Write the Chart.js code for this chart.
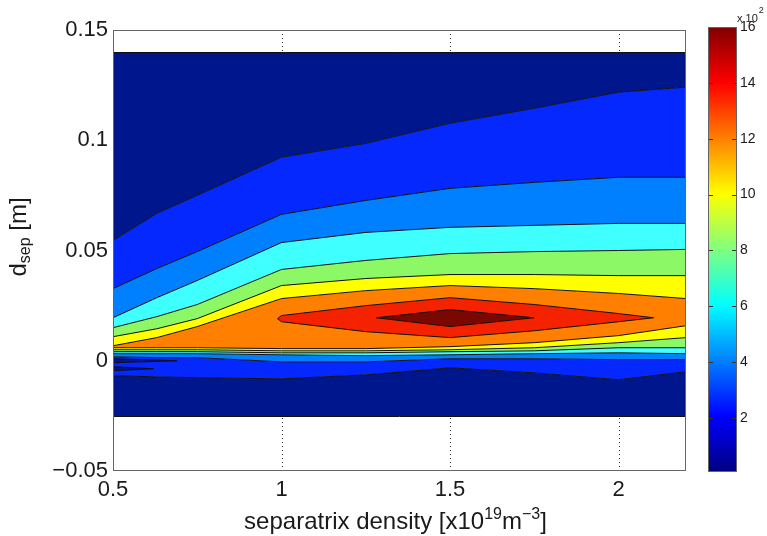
<!DOCTYPE html>
<html>
<head>
<meta charset="utf-8">
<script src="https://cdn.jsdelivr.net/npm/chart.js@4.4.1/dist/chart.umd.min.js"></script>
<style>
  body { margin: 0; background: #fff; }
  #quadro { position: relative; width: 767px; height: 536px; }
  #contorno { position: absolute; left: 0; top: 0; }
  #barra { position: absolute; left: 690px; top: 0; }
</style>
</head>
<body>
<div id="quadro">
  <canvas id="contorno" width="700" height="536"></canvas>
  <canvas id="barra" width="77" height="536"></canvas>
</div>
<script>
// Pontos de densidade (x10^19 m^-3) onde as curvas de nível foram tomadas
const densidade = [0.5, 0.63, 0.75, 1.0, 1.25, 1.5, 1.75, 2.0, 2.2];

// Limites verticais da malha calculada [m]
const topoMalha = 0.14;
const baseMalha = -0.025;

// Curvas de nível acima do pico (de cima para baixo)
const nivelAzul      = [0.0545, 0.0668, 0.0750, 0.0923, 0.0986, 0.1077, 0.1145, 0.1218, 0.1241];
const nivelAzulMedio = [0.0327, 0.0418, 0.0495, 0.0664, 0.0727, 0.0782, 0.0809, 0.0832, 0.0832];
const nivelCiano     = [0.0195, 0.0286, 0.0364, 0.0536, 0.0582, 0.0605, 0.0614, 0.0623, 0.0623];
const nivelVerde     = [0.0150, 0.0200, 0.0255, 0.0414, 0.0455, 0.0486, 0.0495, 0.0500, 0.0505];
const nivelAmarelo   = [0.0109, 0.0145, 0.0191, 0.0341, 0.0373, 0.0391, 0.0391, 0.0386, 0.0386];
const nivelLaranja   = [0.0068, 0.0105, 0.0155, 0.0282, 0.0318, 0.0341, 0.0327, 0.0305, 0.0282];

// Curvas de nível abaixo do pico, junto da separatriz
const quedaLaranja   = [0.0059, 0.0059, 0.0059, 0.0055, 0.0055, 0.0064, 0.0082, 0.0114, 0.0159];
const quedaAmarelo   = [0.0050, 0.0050, 0.0050, 0.0045, 0.0045, 0.0050, 0.0059, 0.0082, 0.0105];
const quedaVerde     = [0.0041, 0.0041, 0.0041, 0.0036, 0.0036, 0.0041, 0.0045, 0.0059, 0.0059];
const quedaCiano     = [0.0032, 0.0032, 0.0032, 0.0027, 0.0023, 0.0027, 0.0032, 0.0036, 0.0032];
const quedaAzulMedio = [0.0018, 0.0014, 0.0014, -0.0005, -0.0005, 0.0009, 0.0009, 0.0005, 0.0005];
const quedaAzul      = [-0.0068, -0.0073, -0.0077, -0.0082, -0.0064, -0.0032, -0.0055, -0.0086, -0.0050];

// Ilha vermelha (pico) e o núcleo escuro dentro dela
const picoX     = [0.988, 1.0, 1.25, 1.5, 1.75, 2.0, 2.104];
const picoSup   = [0.0191, 0.0205, 0.0250, 0.0286, 0.0255, 0.0214, 0.0195];
const picoInf   = [0.0191, 0.0177, 0.0132, 0.0105, 0.0136, 0.0177, 0.0195];
const nucleoX   = [1.281, 1.5, 1.749];
const nucleoSup = [0.0195, 0.0232, 0.0195];
const nucleoInf = [0.0195, 0.0155, 0.0195];

// Duas línguas de valor baixo na borda esquerda, abaixo da separatriz
const fendaX1   = [0.5, 0.69];
const fendaSup1 = [0.0009, 0.0];
const fendaInf1 = [-0.0009, 0.0];
const fendaX2   = [0.5, 0.62];
const fendaSup2 = [-0.0027, -0.0036];
const fendaInf2 = [-0.0045, -0.0036];

// Marcas dos eixos
const marcasX = [0.5, 1, 1.5, 2];
const marcasY = [-0.05, 0, 0.05, 0.1, 0.15];

// Barra de cores (x10^2)
const limitesBarra = [0.07, 16];
const marcasBarra = [2, 4, 6, 8, 10, 12, 14, 16];

const cores = {
    marinho: '#00168c',
    azul: '#0528ff',
    azulMedio: '#0080ff',
    ciano: '#40ffff',
    verde: '#8cf866',
    amarelo: '#ffff00',
    laranja: '#ff8000',
    vermelho: '#f52200',
    escuro: '#7a0800'
};

const fonte = '"Liberation Sans", Arial, sans-serif';
const corTexto = '#1a1a1a';

function curva(xs, ys) {
    return xs.map((x, i) => ({ x: x, y: ys[i] }));
}

// Uma curva de nível; "alvo" diz até onde pintar a faixa
function camada(xs, ys, cor, alvo, espessura) {
    return {
        data: curva(xs, ys),
        borderColor: '#111',
        borderWidth: espessura === undefined ? 1 : espessura,
        pointRadius: 0,
        tension: 0,
        backgroundColor: cor || 'transparent',
        fill: alvo === undefined ? false : alvo
    };
}

// Escreve texto com partes em expoente/índice
function escrevePartes(ctx, partes, cx, base) {
    let total = 0;
    partes.forEach(p => {
        ctx.font = p.tam + 'px ' + fonte;
        p.larg = ctx.measureText(p.t).width;
        total += p.larg;
    });
    let x = cx - total / 2;
    ctx.textAlign = 'left';
    ctx.textBaseline = 'alphabetic';
    partes.forEach(p => {
        ctx.font = p.tam + 'px ' + fonte;
        ctx.fillText(p.t, x, base + p.dy);
        x += p.larg;
    });
}

const molduraPlugin = {
    id: 'moldura',
    beforeDatasetsDraw(chart) {
        // grade pontilhada nas marcas de x
        const { ctx, chartArea: a, scales: { x } } = chart;
        ctx.save();
        ctx.strokeStyle = '#333';
        ctx.lineWidth = 1;
        ctx.setLineDash([1, 3]);
        marcasX.forEach(v => {
            const px = Math.round(x.getPixelForValue(v)) + 0.5;
            ctx.beginPath();
            ctx.moveTo(px, a.top);
            ctx.lineTo(px, a.bottom);
            ctx.stroke();
        });
        ctx.restore();
    },
    afterDatasetsDraw(chart) {
        const { ctx, chartArea: a, scales: { x, y } } = chart;
        ctx.save();
        // bordas da malha
        ctx.strokeStyle = '#111';
        ctx.lineWidth = 1;
        [topoMalha, baseMalha].forEach(v => {
            const py = Math.round(y.getPixelForValue(v)) + 0.5;
            ctx.beginPath();
            ctx.moveTo(x.getPixelForValue(densidade[0]), py);
            ctx.lineTo(x.getPixelForValue(densidade[densidade.length - 1]), py);
            ctx.stroke();
        });
        // caixa dos eixos
        ctx.strokeStyle = '#666';
        ctx.strokeRect(Math.round(a.left) + 0.5, Math.round(a.top) + 0.5,
            Math.round(a.width) - 1, Math.round(a.height) - 1);
        ctx.restore();
    },
    afterDraw(chart) {
        const { ctx, chartArea: a } = chart;
        ctx.save();
        ctx.fillStyle = corTexto;
        escrevePartes(ctx, [
            { t: 'separatrix density [x10', tam: 24, dy: 0 },
            { t: '19', tam: 16, dy: -10 },
            { t: 'm', tam: 24, dy: 0 },
            { t: '\u22123', tam: 16, dy: -10 },
            { t: ']', tam: 24, dy: 0 }
        ], (a.left + a.right) / 2 - 4, 529);
        ctx.translate(26, 237);
        ctx.rotate(-Math.PI / 2);
        escrevePartes(ctx, [
            { t: 'd', tam: 24, dy: 0 },
            { t: 'sep', tam: 16, dy: 4 },
            { t: ' [m]', tam: 24, dy: 0 }
        ], 0, 0);
        ctx.restore();
    }
};

const gradeBarraPlugin = {
    id: 'gradeBarra',
    afterDatasetsDraw(chart) {
        const { ctx, chartArea: a, scales: { y } } = chart;
        ctx.save();
        ctx.strokeStyle = '#333';
        ctx.lineWidth = 1;
        marcasBarra.forEach(v => {
            const py = Math.round(y.getPixelForValue(v)) + 0.5;
            ctx.beginPath();
            ctx.moveTo(a.left, py); ctx.lineTo(a.left + 5, py);
            ctx.moveTo(a.right - 5, py); ctx.lineTo(a.right, py);
            ctx.stroke();
        });
        ctx.strokeStyle = '#666';
        ctx.strokeRect(Math.round(a.left) + 0.5, Math.round(a.top) + 0.5,
            Math.round(a.width) - 1, Math.round(a.height) - 1);
        // fator de escala no topo
        ctx.fillStyle = corTexto;
        ctx.textAlign = 'left';
        ctx.textBaseline = 'alphabetic';
        ctx.font = '11px ' + fonte;
        ctx.fillText('x 10', a.right, 22);
        const w = ctx.measureText('x 10').width;
        ctx.font = '9px ' + fonte;
        ctx.fillText('2', a.right + w + 1, 13);
        ctx.restore();
    }
};

function gradienteJet(chart) {
    const { ctx, chartArea, scales } = chart;
    if (!chartArea) return cores.azul;
    const y0 = scales.y.getPixelForValue(limitesBarra[0]);
    const y1 = scales.y.getPixelForValue(limitesBarra[1]);
    const g = ctx.createLinearGradient(0, y0, 0, y1);
    g.addColorStop(0, '#000080');
    g.addColorStop(0.125, '#0000ff');
    g.addColorStop(0.375, '#00ffff');
    g.addColorStop(0.5, '#80ff80');
    g.addColorStop(0.625, '#ffff00');
    g.addColorStop(0.875, '#ff0000');
    g.addColorStop(1, '#800000');
    return g;
}

document.addEventListener("DOMContentLoaded", function () {
    const datasets = [
        camada(nucleoX, nucleoSup),                                  // 0
        camada(nucleoX, nucleoInf, cores.escuro, 0),                 // 1
        camada(picoX, picoSup),                                      // 2
        camada(picoX, picoInf, cores.vermelho, 2),                   // 3
        camada(fendaX1, fendaSup1),                                  // 4
        camada(fendaX1, fendaInf1, cores.marinho, 4),                // 5
        camada(fendaX2, fendaSup2),                                  // 6
        camada(fendaX2, fendaInf2, cores.marinho, 6),                // 7
        camada(densidade, nivelAzul, cores.marinho, { value: topoMalha }), // 8
        camada(densidade, nivelAzulMedio, cores.azul, 8),            // 9
        camada(densidade, nivelCiano, cores.azulMedio, 9),           // 10
        camada(densidade, nivelVerde, cores.ciano, 10),              // 11
        camada(densidade, nivelAmarelo, cores.verde, 11),            // 12
        camada(densidade, nivelLaranja, cores.amarelo, 12),          // 13
        camada(densidade, quedaLaranja, cores.laranja, 13),          // 14
        camada(densidade, quedaAmarelo, cores.amarelo, 14),          // 15
        camada(densidade, quedaVerde, cores.verde, 15),              // 16
        camada(densidade, quedaCiano, cores.ciano, 16),              // 17
        camada(densidade, quedaAzulMedio, cores.azulMedio, 17),      // 18
        camada(densidade, quedaAzul, cores.azul, 18),                // 19
        camada(densidade, quedaAzul, cores.marinho, { value: baseMalha }, 0) // 20
    ];

    new Chart(document.getElementById('contorno'), {
        type: 'line',
        data: { datasets: datasets },
        options: {
            responsive: false,
            animation: false,
            layout: { padding: { top: 30, right: 14, left: 0, bottom: 0 } },
            scales: {
                x: {
                    type: 'linear',
                    min: densidade[0],
                    max: densidade[densidade.length - 1],
                    afterBuildTicks: s => { s.ticks = marcasX.map(v => ({ value: v })); },
                    afterFit: s => { s.height = 65; },
                    grid: { display: false, drawTicks: false },
                    border: { display: false },
                    ticks: {
                        padding: 6,
                        color: corTexto,
                        font: { family: fonte, size: 22 },
                        maxRotation: 0,
                        callback: v => String(v)
                    }
                },
                y: {
                    type: 'linear',
                    min: marcasY[0],
                    max: marcasY[marcasY.length - 1],
                    afterBuildTicks: s => { s.ticks = marcasY.map(v => ({ value: v })); },
                    afterFit: s => { s.width = 113; },
                    grid: { display: false, drawTicks: false },
                    border: { display: false },
                    ticks: {
                        padding: 5,
                        color: corTexto,
                        font: { family: fonte, size: 22 },
                        callback: v => String(v).replace('-', '\u2212')
                    }
                }
            },
            plugins: { legend: { display: false }, tooltip: { enabled: false } }
        },
        plugins: [molduraPlugin]
    });

    // Barra de cores ao lado
    new Chart(document.getElementById('barra'), {
        type: 'bar',
        data: {
            labels: [''],
            datasets: [{
                data: [[limitesBarra[0], limitesBarra[1]]],
                backgroundColor: c => gradienteJet(c.chart),
                borderWidth: 0,
                barPercentage: 1,
                categoryPercentage: 1
            }]
        },
        options: {
            responsive: false,
            animation: false,
            layout: { padding: { top: 27, left: 18, right: 0, bottom: 64 } },
            scales: {
                x: { display: false },
                y: {
                    position: 'right',
                    min: limitesBarra[0],
                    max: limitesBarra[1],
                    afterBuildTicks: s => { s.ticks = marcasBarra.map(v => ({ value: v })); },
                    afterFit: s => { s.width = 30; },
                    grid: { display: false, drawTicks: false },
                    border: { display: false },
                    ticks: {
                        padding: 3,
                        color: corTexto,
                        font: { family: fonte, size: 14 }
                    }
                }
            },
            plugins: { legend: { display: false }, tooltip: { enabled: false } }
        },
        plugins: [gradeBarraPlugin]
    });
});
</script>
</body>
</html>
